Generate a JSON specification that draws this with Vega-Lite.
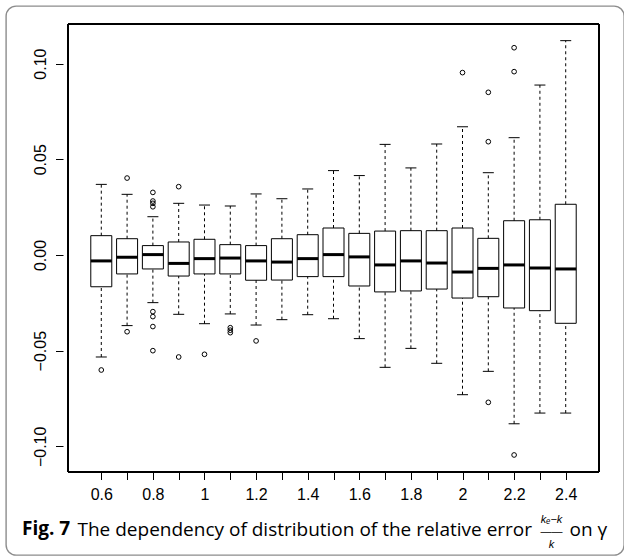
{
  "$schema": "https://vega.github.io/schema/vega-lite/v6.json",
  "autosize": "none",
  "width": 618,
  "height": 549,
  "padding": {"left": 6, "top": 6, "right": 0, "bottom": 1},
  "background": "white",
  "config": {
    "view": {"stroke": "#8c8c8c", "strokeWidth": 1.4, "cornerRadius": 10, "fill": "white"},
    "axis": {"grid": false, "domain": false, "labelFont": "Liberation Sans", "labelFontSize": 16, "labelColor": "black", "tickColor": "black", "tickSize": 7.5, "tickWidth": 1, "titleFont": "Open Sans", "titleFontSize": 19, "titleFontWeight": "normal", "titleColor": "black"}
  },
  "title": {"text": "Fig. 7", "orient": "bottom", "anchor": "start", "frame": "group", "font": "Open Sans", "fontSize": 19, "fontWeight": "bold", "color": "black", "baseline": "alphabetic", "offset": 0, "dx": 16, "dy": -20},
  "datasets": {
    "stats": [
      {"gamma": 0.6, "lower": -0.0533, "q1": -0.0166, "median": -0.0031, "q3": 0.0101, "upper": 0.0369},
      {"gamma": 0.7, "lower": -0.0369, "q1": -0.0099, "median": -0.0012, "q3": 0.0085, "upper": 0.0317},
      {"gamma": 0.8, "lower": -0.0249, "q1": -0.0073, "median": 0.0002, "q3": 0.0049, "upper": 0.0200},
      {"gamma": 0.9, "lower": -0.0310, "q1": -0.0110, "median": -0.0044, "q3": 0.0068, "upper": 0.0270},
      {"gamma": 1.0, "lower": -0.0359, "q1": -0.0099, "median": -0.0019, "q3": 0.0082, "upper": 0.0261},
      {"gamma": 1.1, "lower": -0.0308, "q1": -0.0099, "median": -0.0016, "q3": 0.0054, "upper": 0.0256},
      {"gamma": 1.2, "lower": -0.0366, "q1": -0.0132, "median": -0.0031, "q3": 0.0049, "upper": 0.0319},
      {"gamma": 1.3, "lower": -0.0338, "q1": -0.0131, "median": -0.0037, "q3": 0.0085, "upper": 0.0294},
      {"gamma": 1.4, "lower": -0.0312, "q1": -0.0113, "median": -0.0019, "q3": 0.0106, "upper": 0.0345},
      {"gamma": 1.5, "lower": -0.0333, "q1": -0.0113, "median": 0.0002, "q3": 0.0141, "upper": 0.0441},
      {"gamma": 1.6, "lower": -0.0437, "q1": -0.0162, "median": -0.0010, "q3": 0.0113, "upper": 0.0415},
      {"gamma": 1.7, "lower": -0.0587, "q1": -0.0193, "median": -0.0052, "q3": 0.0125, "upper": 0.0578},
      {"gamma": 1.8, "lower": -0.0488, "q1": -0.0188, "median": -0.0031, "q3": 0.0127, "upper": 0.0455},
      {"gamma": 1.9, "lower": -0.0566, "q1": -0.0178, "median": -0.0042, "q3": 0.0127, "upper": 0.0580},
      {"gamma": 2.0, "lower": -0.0730, "q1": -0.0225, "median": -0.0089, "q3": 0.0141, "upper": 0.0670},
      {"gamma": 2.1, "lower": -0.0608, "q1": -0.0218, "median": -0.0070, "q3": 0.0087, "upper": 0.0430},
      {"gamma": 2.2, "lower": -0.0882, "q1": -0.0277, "median": -0.0052, "q3": 0.0179, "upper": 0.0613},
      {"gamma": 2.3, "lower": -0.0826, "q1": -0.0291, "median": -0.0068, "q3": 0.0184, "upper": 0.0888},
      {"gamma": 2.4, "lower": -0.0826, "q1": -0.0357, "median": -0.0073, "q3": 0.0265, "upper": 0.1120}
    ],
    "outliers": [
      {"gamma": 0.6, "value": -0.0601},
      {"gamma": 0.7, "value": 0.0402},
      {"gamma": 0.7, "value": -0.0401},
      {"gamma": 0.8, "value": 0.0327},
      {"gamma": 0.8, "value": 0.0282},
      {"gamma": 0.8, "value": 0.0270},
      {"gamma": 0.8, "value": 0.0252},
      {"gamma": 0.8, "value": -0.0296},
      {"gamma": 0.8, "value": -0.0322},
      {"gamma": 0.8, "value": -0.0374},
      {"gamma": 0.8, "value": -0.0500},
      {"gamma": 0.9, "value": 0.0357},
      {"gamma": 0.9, "value": -0.0533},
      {"gamma": 1.0, "value": -0.0519},
      {"gamma": 1.1, "value": -0.0380},
      {"gamma": 1.1, "value": -0.0393},
      {"gamma": 1.1, "value": -0.0406},
      {"gamma": 1.2, "value": -0.0449},
      {"gamma": 2.0, "value": 0.0953},
      {"gamma": 2.1, "value": 0.0850},
      {"gamma": 2.1, "value": 0.0592},
      {"gamma": 2.1, "value": -0.0770},
      {"gamma": 2.2, "value": 0.1083},
      {"gamma": 2.2, "value": 0.0958},
      {"gamma": 2.2, "value": -0.1045}
    ]
  },
  "resolve": {"axis": {"x": "independent"}},
  "layer": [
    {
      "data": {"name": "stats"},
      "mark": {"type": "bar", "size": 21, "fill": "white", "fillOpacity": 0, "stroke": "black", "strokeWidth": 1},
      "encoding": {
        "x": {"field": "gamma", "type": "quantitative",
              "scale": {"domain": [0.471, 2.529], "range": [57, 598], "nice": false, "zero": false},
              "axis": {"orient": "bottom", "offset": -83, "values": [0.6,0.7,0.8,0.9,1.0,1.1,1.2,1.3,1.4,1.5,1.6,1.7,1.8,1.9,2.0,2.1,2.2,2.3,2.4],
                       "labelExpr": "round(datum.value*10) % 2 == 0 ? toString(round(datum.value*10)/10) : ''",
                       "labelOverlap": false, "labelFlush": false, "labelPadding": 20, "labelBaseline": "alphabetic",
                       "title": "The dependency of distribution of the relative error", "titleX": 71, "titleY": 63, "titleAlign": "left", "titleAnchor": "start", "titleBaseline": "alphabetic"}},
        "y": {"field": "q1", "type": "quantitative",
              "scale": {"domain": [-0.1134, 0.1207], "range": [466, 18], "nice": false, "zero": false},
              "axis": {"orient": "left", "offset": -57, "values": [-0.1, -0.05, 0, 0.05, 0.1], "format": ".2f",
                       "labelAngle": -90, "labelAlign": "center", "labelBaseline": "alphabetic", "labelPadding": 10,
                       "title": "on γ", "titleAngle": 0, "titleX": 506, "titleY": 529, "titleAlign": "left", "titleAnchor": "start", "titleBaseline": "alphabetic"}},
        "y2": {"field": "q3"}
      }
    },
    {
      "data": {"name": "stats"},
      "mark": {"type": "rect", "fillOpacity": 0, "stroke": "black", "strokeWidth": 1},
      "encoding": {
        "x": {"datum": 0.471, "type": "quantitative", "axis": null},
        "x2": {"datum": 2.529},
        "y": {"datum": -0.1134, "type": "quantitative"},
        "y2": {"datum": 0.1207}
      }
    },
    {
      "data": {"name": "stats"},
      "mark": {"type": "rule", "stroke": "black", "strokeWidth": 1, "strokeDash": [3, 3]},
      "encoding": {
        "x": {"field": "gamma", "type": "quantitative",
              "axis": {"orient": "bottom", "offset": -83, "domain": false, "ticks": false, "labels": false,
                       "title": ["kₑ−k", "——", "k"], "titleFont": "Liberation Sans", "titleFontStyle": "italic", "titleFontSize": 11, "titleLineHeight": 12.5,
                       "titleX": 545, "titleY": 50, "titleAlign": "center", "titleAnchor": "middle", "titleBaseline": "alphabetic"}},
        "y": {"field": "lower", "type": "quantitative"},
        "y2": {"field": "q1"}
      }
    },
    {
      "data": {"name": "stats"},
      "mark": {"type": "rule", "stroke": "black", "strokeWidth": 1, "strokeDash": [3, 3]},
      "encoding": {
        "x": {"field": "gamma", "type": "quantitative", "axis": null},
        "y": {"field": "q3", "type": "quantitative"},
        "y2": {"field": "upper"}
      }
    },
    {
      "data": {"name": "stats"},
      "mark": {"type": "tick", "orient": "horizontal", "size": 11, "thickness": 1, "color": "black", "opacity": 1},
      "encoding": {
        "x": {"field": "gamma", "type": "quantitative", "axis": null},
        "y": {"field": "lower", "type": "quantitative"}
      }
    },
    {
      "data": {"name": "stats"},
      "mark": {"type": "tick", "orient": "horizontal", "size": 11, "thickness": 1, "color": "black", "opacity": 1},
      "encoding": {
        "x": {"field": "gamma", "type": "quantitative", "axis": null},
        "y": {"field": "upper", "type": "quantitative"}
      }
    },
    {
      "data": {"name": "stats"},
      "mark": {"type": "tick", "orient": "horizontal", "size": 21, "thickness": 3, "color": "black", "opacity": 1},
      "encoding": {
        "x": {"field": "gamma", "type": "quantitative", "axis": null},
        "y": {"field": "median", "type": "quantitative"}
      }
    },
    {
      "data": {"name": "outliers"},
      "mark": {"type": "point", "shape": "circle", "filled": false, "size": 22, "stroke": "black", "strokeWidth": 1, "opacity": 1},
      "encoding": {
        "x": {"field": "gamma", "type": "quantitative", "axis": null},
        "y": {"field": "value", "type": "quantitative"}
      }
    }
  ]
}
